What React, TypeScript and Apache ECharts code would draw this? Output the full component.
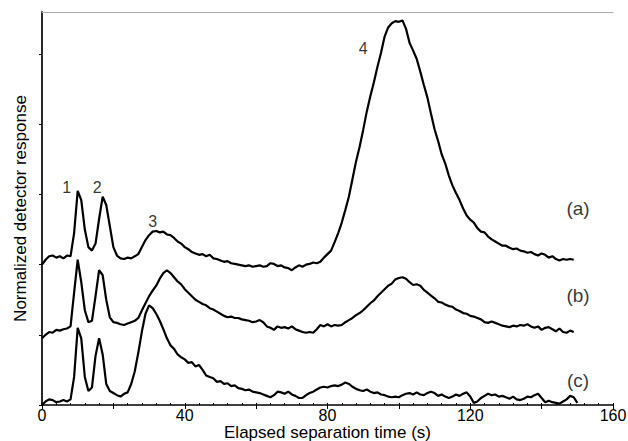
import React, { useEffect, useRef } from "react";
import * as echarts from "echarts";

// elapsed time (s), one sample per second
const timeA: number[] = Array.from({ length: 150 }, (_, i) => i);
const timeC: number[] = Array.from({ length: 151 }, (_, i) => i);

const traceA: number[] = [
  2.0, 2.07, 2.12, 2.13, 2.1, 2.12, 2.09, 2.13, 2.12, 2.45,
  3.05, 2.92, 2.5, 2.25, 2.2, 2.3, 2.65, 2.97, 2.85, 2.55,
  2.25, 2.13, 2.09, 2.08, 2.1, 2.09, 2.12, 2.15, 2.25, 2.35,
  2.42, 2.47, 2.48, 2.46, 2.47, 2.43, 2.42, 2.38, 2.33, 2.3,
  2.25, 2.22, 2.18, 2.16, 2.14, 2.15, 2.12, 2.14, 2.09, 2.08,
  2.06, 2.04, 2.05, 2.02, 2.01, 2.0, 1.99, 1.98, 1.99, 1.97,
  1.98, 1.99, 1.97, 1.98, 2.02, 2.01, 1.98, 1.99, 1.96, 1.95,
  1.92, 1.96, 1.99, 1.97, 2.0, 2.01, 2.03, 2.02, 2.04, 2.1,
  2.15, 2.2, 2.32, 2.45, 2.6, 2.78, 2.97, 3.22, 3.47, 3.68,
  3.92, 4.18, 4.4, 4.6, 4.82, 5.02, 5.25, 5.38, 5.44, 5.47,
  5.46, 5.48, 5.36, 5.16, 5.05, 4.93, 4.75, 4.56, 4.38, 4.15,
  3.93, 3.76, 3.57, 3.44, 3.27, 3.13, 3.02, 2.92, 2.8, 2.7,
  2.64, 2.6, 2.52, 2.47, 2.46, 2.4, 2.36, 2.33, 2.3, 2.27,
  2.27, 2.24, 2.22, 2.23, 2.2, 2.19, 2.17, 2.18, 2.15, 2.13,
  2.16, 2.14, 2.1, 2.12, 2.08, 2.06, 2.08, 2.07, 2.08, 2.07,
];

const traceB: number[] = [
  0.95, 1.0, 1.04, 1.03, 1.07, 1.06, 1.08, 1.09, 1.12, 1.6,
  2.07, 1.75, 1.35, 1.18, 1.2, 1.55, 1.92, 1.85, 1.5, 1.25,
  1.18, 1.17, 1.15, 1.14, 1.16, 1.18, 1.2, 1.24, 1.35, 1.45,
  1.55, 1.63, 1.7, 1.8, 1.88, 1.92, 1.88, 1.82, 1.76, 1.72,
  1.65, 1.6, 1.55, 1.5, 1.47, 1.44, 1.42, 1.38, 1.36, 1.33,
  1.3, 1.27, 1.25, 1.26, 1.24, 1.24, 1.22, 1.21, 1.2, 1.18,
  1.19, 1.21, 1.18, 1.12, 1.1, 1.07, 1.12, 1.1, 1.11, 1.09,
  1.12, 1.08, 1.06, 1.04, 1.03, 1.04, 1.03, 1.08, 1.14, 1.12,
  1.15, 1.12, 1.14, 1.13, 1.14, 1.18, 1.21, 1.24, 1.28, 1.31,
  1.35, 1.4, 1.45, 1.49, 1.55, 1.6, 1.65, 1.7, 1.73, 1.79,
  1.81, 1.82, 1.8, 1.75, 1.71, 1.72, 1.7, 1.64, 1.6, 1.56,
  1.52, 1.47, 1.46, 1.43, 1.41, 1.4, 1.36, 1.34, 1.31, 1.3,
  1.27, 1.26, 1.24, 1.22, 1.18, 1.17, 1.19, 1.17, 1.15, 1.13,
  1.12, 1.11, 1.13, 1.12, 1.14, 1.13, 1.15, 1.12, 1.1, 1.12,
  1.07, 1.1, 1.11, 1.08, 1.05, 1.09, 1.04, 1.03, 1.06, 1.04,
];

const traceC: number[] = [
  0.0, 0.05, 0.08, 0.07, 0.04, 0.05, 0.07, 0.05, 0.08, 0.4,
  1.1, 0.95, 0.4, 0.2, 0.25, 0.7, 0.95, 0.72, 0.3, 0.2,
  0.17, 0.14, 0.12, 0.16, 0.18, 0.3, 0.48, 0.75, 1.05, 1.3,
  1.42, 1.38, 1.3, 1.2, 1.08, 0.95, 0.85, 0.8, 0.72, 0.68,
  0.65, 0.6, 0.61, 0.55, 0.57, 0.5, 0.42, 0.4, 0.38, 0.33,
  0.34, 0.3, 0.31, 0.27, 0.28, 0.24, 0.23, 0.21, 0.22, 0.19,
  0.18, 0.17, 0.15, 0.13, 0.11, 0.14, 0.19, 0.18, 0.16, 0.19,
  0.15, 0.13, 0.1, 0.1, 0.14, 0.17, 0.19, 0.22, 0.25, 0.26,
  0.25, 0.27, 0.28, 0.27, 0.29, 0.32, 0.3, 0.26, 0.23, 0.21,
  0.2, 0.22, 0.19, 0.17, 0.18, 0.15, 0.14, 0.12, 0.11, 0.12,
  0.11, 0.14, 0.16, 0.17, 0.15, 0.18, 0.15, 0.14, 0.17, 0.19,
  0.17, 0.13, 0.15, 0.12, 0.1, 0.12, 0.15, 0.13, 0.16, 0.18,
  0.12, 0.03, 0.05, 0.1, 0.13, 0.16, 0.14, 0.15, 0.12, 0.13,
  0.11, 0.09, 0.12, 0.08, 0.07, 0.09, 0.12, 0.11, 0.14, 0.16,
  0.1, 0.04, 0.06, 0.04, 0.03, 0.02, 0.05, 0.08, 0.13, 0.11,
  0.03,
];

const xTickLabels: number[] = [0, 40, 80, 120, 160];
const yTicks: number[] = [0, 1, 2, 3, 4, 5];

const peakNames: string[] = ["1", "2", "3", "4"];
const peakPos: [number, number][] = [
  [6.9, 3.1],
  [15.5, 3.1],
  [31, 2.62],
  [90, 5.08],
];
const traceNames: string[] = ["(a)", "(b)", "(c)"];
const traceNamePos: [number, number][] = [
  [150.2, 2.8],
  [150.2, 1.56],
  [150.2, 0.35],
];

const FONT = "'Liberation Sans', Arial, sans-serif";

export default function App() {
  const ref = useRef<HTMLDivElement>(null);
  useEffect(() => {
    document.body.style.margin = "0";
    if (!ref.current) return;
    const chart = echarts.init(ref.current, undefined, { renderer: "svg" });
    const zip = (t: number[], v: number[]) => v.map((y, i) => [t[i], y]);
    const lineSeries = (data: number[][]) => ({
      type: "line",
      data,
      showSymbol: false,
      symbol: "none",
      lineStyle: { color: "#000", width: 2.2 },
      z: 3,
    });
    const textLabel = (size: number) => ({
      show: true,
      position: "inside",
      formatter: "{b}",
      color: "#000",
      textBorderWidth: 0,
      fontSize: size,
      fontFamily: FONT,
    });
    chart.setOption({
      animation: false,
      backgroundColor: "#fff",
      grid: {
        left: 42,
        right: 15,
        top: 12,
        bottom: 36,
        outerBoundsMode: "none",
        containLabel: false,
      },
      xAxis: [
        {
          type: "value",
          position: "bottom",
          min: 0,
          max: 160,
          interval: 20,
          axisLine: { show: true, lineStyle: { color: "#000", width: 1.5 } },
          axisTick: { show: true, length: 4, lineStyle: { color: "#000" } },
          axisLabel: {
            color: "#000",
            fontSize: 16,
            fontFamily: FONT,
            margin: 2,
            formatter: (v: number) => (xTickLabels.includes(v) ? String(v) : ""),
          },
          splitLine: { show: false },
          name: "Elapsed separation time (s)",
          nameLocation: "middle",
          nameGap: 19,
          nameMoveOverlap: false,
          nameTextStyle: {
            color: "#000",
            fontSize: 17,
            fontFamily: FONT,
            verticalAlign: "top",
          },
        },
        {
          type: "value",
          position: "bottom",
          min: 0,
          max: 160,
          interval: 20,
          axisLine: { show: false },
          axisTick: { show: true, inside: true, length: 2, lineStyle: { color: "#000" } },
          minorTick: { show: true, splitNumber: 5, length: 2, lineStyle: { color: "#000" } },
          axisLabel: { show: false },
          splitLine: { show: false },
        },
        {
          type: "value",
          position: "top",
          min: 0,
          max: 160,
          axisLine: { show: true, lineStyle: { color: "#aaa", width: 1 } },
          axisTick: { show: false },
          axisLabel: { show: false },
          splitLine: { show: false },
        },
      ],
      yAxis: [
        {
          type: "value",
          position: "left",
          min: 0,
          max: 5.6,
          axisLine: { show: true, lineStyle: { color: "#000", width: 1.5 } },
          axisTick: {
            show: true,
            length: 3,
            customValues: yTicks,
            lineStyle: { color: "#000" },
          },
          axisLabel: { show: false },
          splitLine: { show: false },
          name: "Normalized detector response",
          nameLocation: "middle",
          nameGap: 13,
          nameMoveOverlap: false,
          nameTextStyle: { color: "#000", fontSize: 17, fontFamily: FONT },
        },
        {
          type: "value",
          position: "right",
          min: 0,
          max: 5.6,
          axisLine: { show: true, lineStyle: { color: "#222", width: 1.5 } },
          axisTick: { show: false },
          axisLabel: { show: false },
          splitLine: { show: false },
        },
      ],
      series: [
        lineSeries(zip(timeA, traceA)),
        lineSeries(zip(timeA, traceB)),
        lineSeries(zip(timeC, traceC)),
        {
          type: "scatter",
          symbolSize: 0,
          itemStyle: { color: "#000" },
          data: peakNames.map((n, i) => ({ name: n, value: peakPos[i] })),
          label: textLabel(16),
          z: 5,
        },
        {
          type: "scatter",
          symbolSize: 0,
          itemStyle: { color: "#000" },
          data: traceNames.map((n, i) => ({ name: n, value: traceNamePos[i] })),
          label: textLabel(19),
          z: 5,
        },
      ],
    });
    return () => chart.dispose();
  }, []);
  return <div ref={ref} style={{ width: 628, height: 441 }} />;
}
